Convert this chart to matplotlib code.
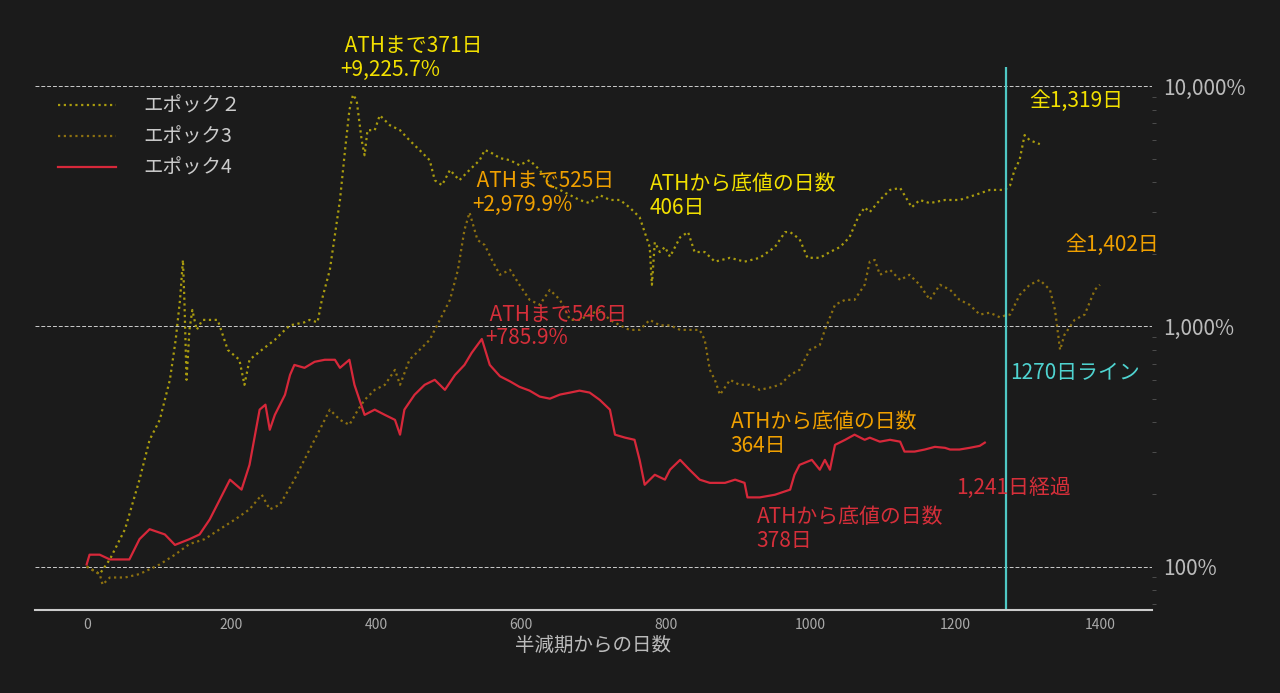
import matplotlib
matplotlib.use("Agg")
import matplotlib.pyplot as plt
from matplotlib.ticker import FixedLocator, LogLocator, NullFormatter

plt.rcParams['font.family'] = ['Noto Sans CJK JP', 'DejaVu Sans']

e2_days = [0,18,32,53,73,87,101,115,123,129,133,135,138,142,146,152,160,170,181,195,211,218,225,242,260,274,281,301,308,319,325,336,350,357,363,368,373,380,384,388,398,405,419,433,446,460,474,481,491,502,515,529,543,550,557,571,585,598,612,626,640,654,668,681,695,709,723,737,750,764,771,778,781,785,792,799,806,820,831,840,854,868,889,909,930,951,965,972,985,996,1013,1027,1041,1054,1066,1075,1082,1096,1110,1124,1130,1140,1151,1165,1186,1206,1227,1248,1269,1276,1282,1289,1296,1303,1317]
e2_vals = [100,93,107,143,230,337,408,599,879,1290,1890,1290,599,967,1170,967,1064,1064,1064,798,726,571,726,798,879,967,1010,1040,1064,1040,1290,1720,3360,5420,7950,9225,8750,5960,5160,6560,6560,7570,6880,6560,5960,5420,4920,4060,3870,4480,4060,4480,4920,5420,5330,5020,4920,4690,4920,4480,3870,3700,3520,3360,3260,3520,3360,3360,3130,2850,2470,2140,1490,2240,2040,2140,1950,2350,2470,2040,2040,1860,1930,1860,1930,2140,2470,2470,2310,1930,1930,2040,2140,2350,2850,3130,2990,3360,3700,3770,3520,3130,3360,3260,3360,3360,3520,3700,3700,3870,4480,4920,6260,5960,5740]

e3_days = [0,18,22,32,53,73,101,122,142,163,184,205,225,242,253,267,287,308,322,336,350,363,375,384,398,412,426,433,446,460,474,488,502,513,522,529,540,550,560,571,585,598,612,626,640,654,668,681,695,709,723,737,750,764,778,792,806,820,833,847,854,861,868,875,889,902,916,930,944,958,972,985,999,1013,1020,1034,1048,1061,1075,1082,1089,1096,1110,1124,1137,1151,1165,1179,1193,1206,1220,1234,1248,1262,1269,1276,1289,1303,1317,1331,1338,1345,1351,1365,1379,1393,1400]
e3_vals = [100,93,84,90,90,93,102,112,124,130,143,157,173,199,173,181,230,307,371,450,408,389,450,494,544,571,659,571,726,798,879,1064,1290,1720,2520,2980,2290,2180,1890,1640,1720,1490,1290,1230,1420,1290,1064,1064,1120,1170,1064,1010,967,967,1064,1010,1010,967,967,967,879,659,599,519,599,571,571,544,556,571,628,659,798,836,967,1230,1290,1290,1490,1860,1890,1640,1720,1560,1640,1490,1290,1490,1420,1290,1230,1120,1140,1090,1110,1120,1350,1490,1560,1420,1170,798,922,1064,1120,1420,1490]

e4_days = [0,4,18,32,59,73,87,108,122,142,156,170,184,198,214,225,239,247,253,260,274,281,287,301,315,329,343,350,363,370,384,398,412,426,433,439,453,467,481,495,509,522,532,546,557,571,585,598,612,626,640,654,668,681,695,709,723,730,744,757,764,771,785,799,806,820,833,847,861,882,896,909,913,930,951,972,978,985,1002,1013,1020,1027,1034,1048,1061,1075,1082,1096,1110,1124,1130,1144,1158,1172,1186,1193,1206,1220,1234,1241]
e4_vals = [102,112,112,107,107,130,143,136,123,130,136,157,190,230,209,265,450,472,371,428,519,628,691,672,712,726,726,672,726,571,428,450,428,408,354,450,519,571,599,544,628,691,776,886,691,620,590,560,540,510,500,520,530,540,530,494,450,354,344,337,278,219,241,230,253,278,253,230,223,223,230,223,194,194,199,209,241,265,278,253,278,253,321,337,354,337,344,331,337,331,301,301,307,315,312,307,307,312,318,328]

ath_line_day = 1270
ytick_vals = [100, 1000, 10000]
ytick_labels = ['100%', '1,000%', '10,000%']
xtick_vals = [0, 200, 400, 600, 800, 1000, 1200, 1400]

bg = '#1b1b1b'
fig = plt.figure(figsize=(12.8, 6.93), dpi=100, facecolor=bg)
ax = fig.add_axes([0.027, 0.12, 0.873, 0.783], facecolor=bg)

ax.plot(e2_days, e2_vals, color='#aa9c0e', lw=1.6, ls=(0, (1, 1.6)), label='エポック２')
ax.plot(e3_days, e3_vals, color='#8c7010', lw=1.6, ls=(0, (1, 1.6)), label='エポック3')
ax.plot(e4_days, e4_vals, color='#d7283a', lw=1.6, label='エポック4')
ax.axvline(ath_line_day, color='#4fc8c4', lw=1.6)

ax.set_yscale('log')
ax.set_xlim(-72, 1472)
ax.set_ylim(66, 12000)
ax.yaxis.tick_right()
ax.yaxis.set_major_locator(FixedLocator(ytick_vals))
ax.set_yticklabels(ytick_labels)
ax.yaxis.set_minor_locator(LogLocator(base=10, subs=range(2, 10)))
ax.yaxis.set_minor_formatter(NullFormatter())
ax.tick_params(axis='y', which='major', length=0, labelsize=15, labelcolor='#bbbbbb', pad=8)
ax.tick_params(axis='y', which='minor', length=3, color='#555555')
ax.set_xticks(xtick_vals)
ax.tick_params(axis='x', length=0, labelsize=10, labelcolor='#aaaaaa', pad=6)
ax.set_xlabel('半減期からの日数', color='#bbbbbb', fontsize=14, labelpad=2)
ax.grid(axis='y', which='major', color='#cccccc', ls=(0, (4, 2)), lw=0.7)
for s in ['left', 'right', 'top']:
    ax.spines[s].set_visible(False)
ax.spines['bottom'].set_color('#cccccc')
ax.spines['bottom'].set_linewidth(1.5)

leg = ax.legend(loc='upper left', frameon=False, fontsize=14, labelcolor='#cccccc',
                handlelength=3, borderaxespad=0.8, labelspacing=0.5, handletextpad=1.4,
                bbox_to_anchor=(0.0, 0.99))

Y, O, R, T = '#f2e000', '#f0a000', '#d62f3a', '#4fd3d0'
fs = 15
def txt(x, y, s, c):
    ax.text(x, y, s, color=c, fontsize=fs, ha='left', va='center', linespacing=1.1, clip_on=False)
txt(350, 13070, ' ATHまで371日\n+9,225.7%', Y)
txt(1303, 8660, '全1,319日', Y)
txt(533, 3590, ' ATHまで525日\n+2,979.9%', O)
txt(778, 3490, 'ATHから底値の日数\n406日', Y)
txt(1352, 2180, '全1,402日', O)
txt(551, 1000, ' ATHまで546日\n+785.9%', R)
txt(1276, 641, '1270日ライン', T)
txt(890, 357, 'ATHから底値の日数\n364日', O)
txt(1202, 213, '1,241日経過', R)
txt(926, 143, 'ATHから底値の日数\n378日', R)

fig.savefig('out.png', dpi=100, facecolor=bg)
